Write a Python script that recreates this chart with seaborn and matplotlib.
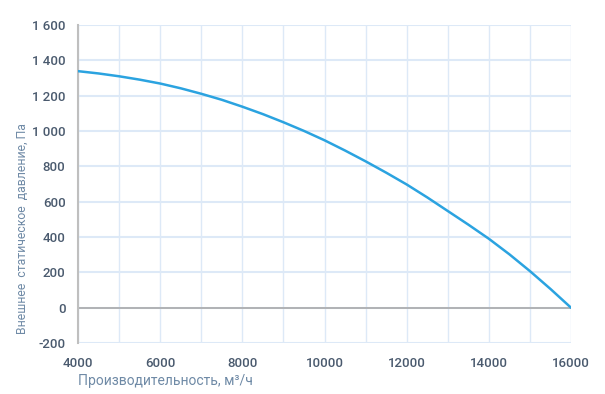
"""Fan curve: external static pressure vs airflow."""

import matplotlib
matplotlib.use("Agg")
import matplotlib.pyplot as plt
import matplotlib.ticker as mticker
import pandas as pd
import seaborn as sns

airflow = [4000, 4500, 5000, 5500, 6000, 6500, 7000, 7500, 8000, 8500, 9000, 9500, 10000,
           10500, 11000, 11500, 12000, 12500, 13000, 13500, 14000, 14500, 15000, 15500, 16000]
pressure = [1338, 1325, 1309, 1290, 1268, 1241, 1210, 1176, 1137, 1095, 1049, 1000, 947,
            889, 828, 764, 697, 624, 547, 470, 390, 302, 207, 106, 0]

x_ticks = [4000, 6000, 8000, 10000, 12000, 14000, 16000]
y_ticks = [-200, 0, 200, 400, 600, 800, 1000, 1200, 1400, 1600]

df = pd.DataFrame({"airflow": airflow, "pressure": pressure})

sns.set_theme(style="white")
plt.rcParams["font.family"] = ["Roboto", "DejaVu Sans"]

fig = plt.figure(figsize=(6.05, 3.94), dpi=100)
ax = fig.add_axes([0.129, 0.129, 0.815, 0.808])

grid_color = "#dde9f7"
for x in range(4000, 16001, 1000):
    ax.axvline(x, color=grid_color, lw=1, zorder=0)
for y in y_ticks:
    ax.axhline(y, color=grid_color, lw=1.5, zorder=0)
ax.axhline(0, color="#a9a9a9", lw=1.2, zorder=1)

sns.lineplot(data=df, x="airflow", y="pressure", ax=ax, color="#2ba3e0", lw=1.8, zorder=3)

ax.set_xlim(4000, 16000)
ax.set_ylim(-200, 1600)
ax.set_xticks(x_ticks)
ax.set_yticks(y_ticks)
ax.yaxis.set_major_formatter(mticker.FuncFormatter(lambda v, _: f"{int(v):,}".replace(",", " ")))

for side in ["top", "right", "bottom"]:
    ax.spines[side].set_visible(False)
ax.spines["left"].set_color("#bfbfbf")
ax.spines["left"].set_linewidth(1.5)

ax.tick_params(axis="y", length=4, width=1, color="#bfbfbf", pad=5,
               labelsize=9.5, labelcolor="#4a5a6e")
ax.tick_params(axis="x", length=0, pad=10, labelsize=9.5, labelcolor="#4a5a6e")
for lab in ax.get_xticklabels() + ax.get_yticklabels():
    lab.set_fontweight("medium")

ax.set_xlabel("Производительность, м³/ч", fontsize=10, color="#6f8aa6", loc="left", labelpad=3)
ax.set_ylabel("Внешнее  статическое  давление, Па", fontsize=8.8, color="#6f8aa6", loc="bottom")
ax.yaxis.set_label_coords(-0.1, 0.03)

fig.savefig("out.png", dpi=100)
